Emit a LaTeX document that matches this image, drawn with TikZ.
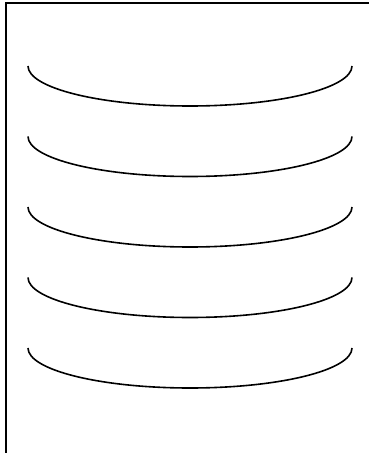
\documentclass[tikz,border=0pt]{standalone}
\usepackage{tikz}

\begin{document}
\begin{tikzpicture}[x=1pt,y=1pt]
            \tikzset{frame/.style={draw, line width=2pt}}
            \tikzset{platter/.style={draw, line width=1.6pt}}

            \useasboundingbox (0,0) rectangle (368,453);

            \draw[frame] (6,-1.3) rectangle (380,449.8);

            \foreach \y in {387,316.5,246,175.5,105}
            {
                \draw[platter] (28,\y) arc[start angle=180, end angle=360, x radius=162pt, y radius=40pt];
            }
        \end{tikzpicture}
\end{document}
